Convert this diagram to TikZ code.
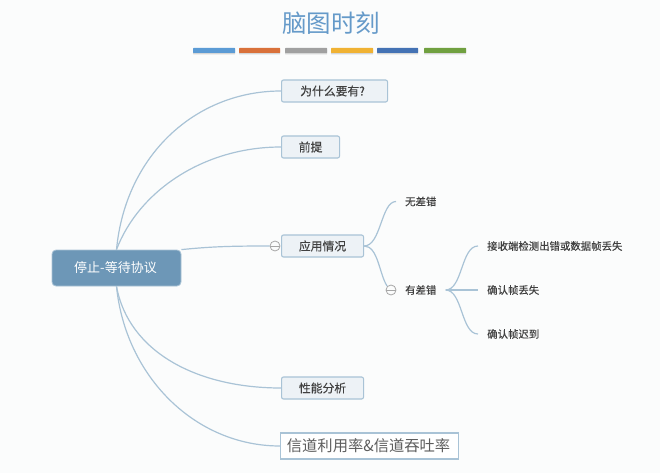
\documentclass[tikz,border=0pt]{standalone}
\usepackage{fontspec}
\setmainfont{Noto Sans CJK SC}
\newfontfamily\midfont[FakeBold=0.35]{Noto Sans CJK SC}
\usetikzlibrary{shadows}
\definecolor{pagebg}{HTML}{FBFCFC}
\definecolor{linkblue}{HTML}{A9C3D6}
\definecolor{boxfill}{HTML}{EDF2F6}
\definecolor{rootfill}{HTML}{6D97B7}
\definecolor{titleblue}{HTML}{659AC9}
\definecolor{textdark}{HTML}{404040}
\definecolor{barblue}{HTML}{5B9BD5}
\definecolor{barorange}{HTML}{D9713A}
\definecolor{bargray}{HTML}{A0A0A0}
\definecolor{baryellow}{HTML}{F0B233}
\definecolor{bardeep}{HTML}{4472B4}
\definecolor{bargreen}{HTML}{70A040}
\tikzset{
  link/.style={draw=linkblue, line width=1.2pt},
  topicbox/.style={draw=linkblue, line width=1.1pt, fill=boxfill, rounded corners=2pt, anchor=west,
    minimum height=22pt, inner sep=0pt, text=textdark, font=\midfont\fontsize{11.8}{13}\selectfont},
  rootbox/.style={draw=linkblue, line width=0.8pt, fill=rootfill, rounded corners=4pt, minimum width=129pt,
    minimum height=36pt, inner sep=0pt, text=white, font=\fontsize{13}{15}\selectfont},
  plainbox/.style={draw=linkblue, line width=1.1pt, fill=white, anchor=west, minimum height=26pt, inner sep=0pt,
    text=textdark!85, font=\fontsize{15.3}{17}\selectfont},
  leaf/.style={anchor=west, inner xsep=9pt, inner ysep=2pt, text=textdark, font=\midfont\fontsize{10.4}{12}\selectfont},
  collapse/.style={circle, draw=gray!70, line width=0.8pt, fill=pagebg, minimum size=10pt, inner sep=0pt},
  foldbar/.style={draw=gray!70, line width=0.8pt},
  colorbar/.style={minimum height=5pt, inner sep=0pt, anchor=west, rounded corners=0.5pt,
    drop shadow={shadow xshift=0pt, shadow yshift=-1.5pt, opacity=0.3}}
}
\begin{document}
\begin{tikzpicture}[x=1pt,y=-1pt]
\fill[pagebg] (0,0) rectangle (660,473);
\useasboundingbox (0,0) rectangle (660,473);
\node[text=titleblue, font=\fontsize{24.5}{28}\selectfont] (title) at (331,23) {脑图时刻};
\foreach \x/\w/\c in {
193/42/barblue,
239/41/barorange,
285/42/bargray,
331/42/baryellow,
377/41/bardeep,
424/42/bargreen}
 \node[colorbar, fill=\c, minimum width=\w pt] (bar\c) at (\x,50.5) {};
\node[rootbox] (root) at (116.5,268) {\kern-2pt 停止-等待协议};
\node[topicbox, minimum width=106pt] (why) at (281,91) {\kern-4pt 为什么要有?};
\node[topicbox, minimum width=58pt] (premise) at (281,147) {前提};
\node[topicbox, minimum width=82pt] (usage) at (281,246) {应用情况};
\node[topicbox, minimum width=82pt] (perf) at (281,388) {性能分析};
\node[plainbox, minimum width=178pt] (rate) at (280,446) {信道利用率\&信道吞吐率\kern2pt};
\node[collapse] (usagefold) at (275,246) {};
\node[collapse] (errfold) at (391,290) {};
\node[leaf] (noerr) at (396,201.5) {无差错};
\node[leaf] (err) at (396,290) {有差错};
\node[leaf] (lost) at (478,246) {接收端检测出错或数据帧丢失};
\node[leaf] (acklost) at (478,290) {确认帧丢失};
\node[leaf] (acklate) at (478,334) {确认帧迟到};
\draw[link] (root.north) .. controls +(9,-95) and +(-85,0) .. (why.west);
\draw[link] (root.north) .. controls +(22,-58) and +(-78,0) .. (premise.west);
\draw[link] (root.north east) .. controls +(30,-3) and +(-40,0) .. (usagefold.west);
\draw[link] (root.south) .. controls +(12,65) and +(-85,0) .. (perf.west);
\draw[link] (root.south) .. controls +(9,90) and +(-85,0) .. (rate.west);
\draw[link] (usage.east) .. controls +(17,0) and +(-15,0) .. (noerr.west);
\draw[link] (usage.east) .. controls +(14,0) and +(-8,-12) .. (errfold.north west);
\draw[link] (err.east) .. controls +(17,0) and +(-17,0) .. (lost.west);
\draw[link] (err.east) -- (acklost.west);
\draw[link] (err.east) .. controls +(17,0) and +(-17,0) .. (acklate.west);
\draw[foldbar] (usagefold.west) -- (usagefold.east);
\draw[foldbar] (errfold.west) -- (errfold.east);
\end{tikzpicture}
\end{document}
